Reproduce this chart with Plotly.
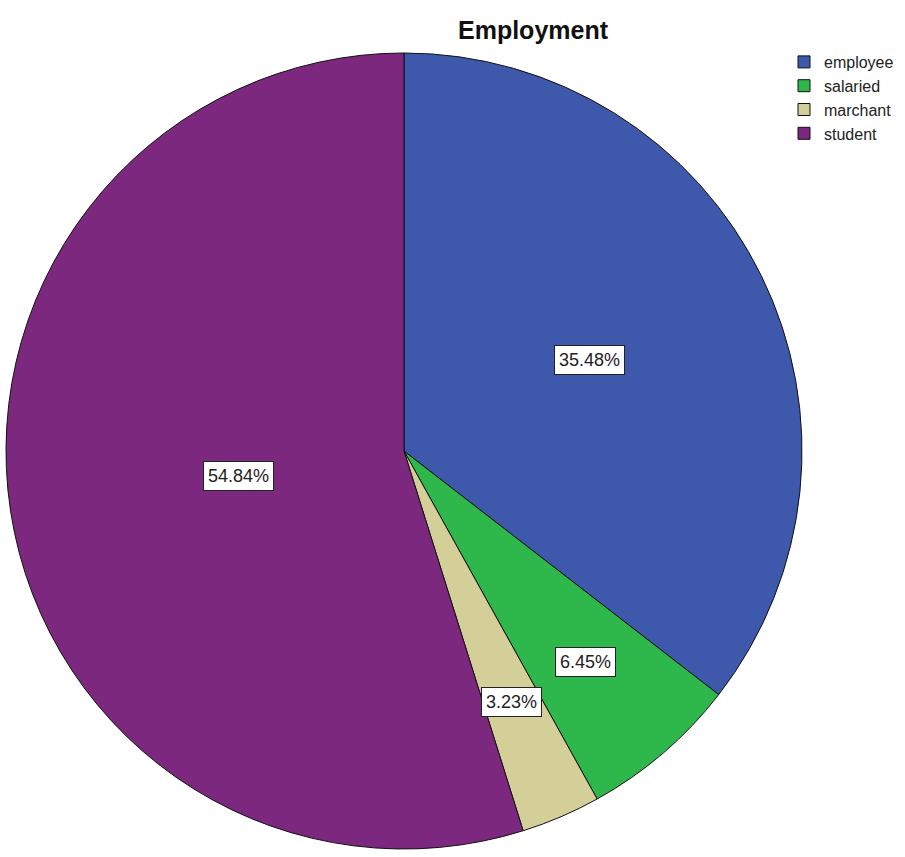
import math
import plotly.graph_objects as go

# ---- data ----
categories = ["employee", "salaried", "marchant", "student"]
counts = [11, 2, 1, 17]
colors = ["#3E58AC", "#2EB74A", "#D4CE98", "#7C287E"]
title_text = "Employment"

# ---- layout geometry (pixels) ----
W, H = 905, 857
cx, cy, r = 404, 451, 398
label_frac = [0.52, 0.70, 0.685, 0.42]

fig = go.Figure()
fig.add_trace(go.Pie(
    labels=categories,
    values=counts,
    sort=False,
    direction="clockwise",
    rotation=0,
    marker=dict(colors=colors, line=dict(color="#111111", width=1)),
    textinfo="none",
    textposition="none",
    hoverinfo="label+percent",
    domain=dict(x=[(cx - r) / W, (cx + r) / W],
                y=[1 - (cy + r) / H, 1 - (cy - r) / H]),
))

# percentage labels in white boxes, placed along slice mid-angles
total = sum(counts)
cum = 0
annotations = []
for i, v in enumerate(counts):
    mid = (cum + v / 2) / total * 2 * math.pi
    cum += v
    px = cx + label_frac[i] * r * math.sin(mid)
    py = cy - label_frac[i] * r * math.cos(mid)
    annotations.append(dict(
        x=px / W, y=1 - py / H, xref="paper", yref="paper",
        text=f"{v / total * 100:.2f}%", showarrow=False,
        font=dict(family="Liberation Sans, Arial", size=18, color="#222222"),
        bgcolor="white", bordercolor="#222222", borderwidth=1, borderpad=4,
        xanchor="center", yanchor="middle",
    ))

fig.update_layout(
    width=W, height=H,
    margin=dict(l=0, r=0, t=0, b=0),
    paper_bgcolor="white", plot_bgcolor="white",
    title=dict(text=f"<b>{title_text}</b>", x=533 / W, xanchor="center",
               y=1 - 30 / H, yanchor="middle",
               font=dict(family="Liberation Sans, Arial", size=25, color="#111111")),
    legend=dict(x=784 / W, xanchor="left", y=1 - 45 / H, yanchor="top",
                font=dict(family="Liberation Sans, Arial", size=16, color="#222222"),
                itemwidth=30, tracegroupgap=0, bgcolor="rgba(0,0,0,0)"),
    annotations=annotations,
    showlegend=True,
)

fig.write_html(
    "out.html",
    config={"displayModeBar": False},
    post_script="document.body.style.margin='0';document.body.style.padding='0';",
)
